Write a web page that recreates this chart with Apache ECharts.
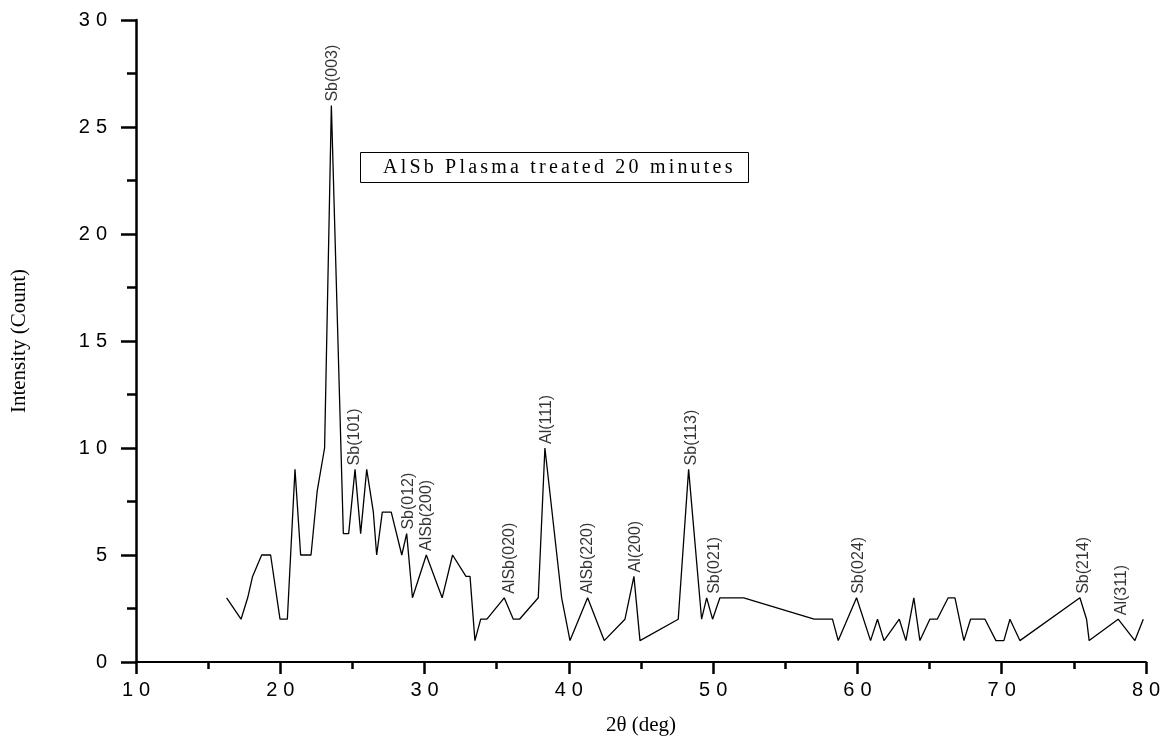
<!DOCTYPE html>
<html>
<head>
<meta charset="utf-8">
<script src="https://cdn.jsdelivr.net/npm/echarts@6/dist/echarts.min.js"></script>
<style>
  html, body { margin: 0; background: #fff; }
  #chart { width: 1172px; height: 751px; }
</style>
</head>
<body>
<div id="chart"></div>
<script>
// XRD scan
const angle = [
  16.28, 17.28, 17.74, 18.08, 18.71, 19.33, 19.98, 20.49, 21.02, 21.41,
  22.13, 22.56, 23.07, 23.54, 24.37, 24.74, 25.18, 25.57, 25.99, 26.45,
  26.68, 27.07, 27.69, 28.42, 28.76, 29.16, 30.12, 31.22, 31.94, 32.87,
  33.15, 33.49, 33.89, 34.32, 35.52, 36.15, 36.58, 37.88, 38.34, 39.50,
  40.08, 41.30, 42.45, 43.89, 44.51, 44.93, 47.58, 48.30, 49.20, 49.55,
  49.96, 50.47, 52.12, 57.00, 58.27, 58.67, 59.94, 60.91, 61.39, 61.84,
  62.90, 63.36, 63.91, 64.33, 65.02, 65.53, 66.29, 66.76, 67.38, 67.84,
  68.84, 69.60, 70.15, 70.57, 71.26, 75.42, 75.88, 76.06, 78.07, 79.23,
  79.81
];
const intensity = [
  3, 2, 3, 4, 5, 5, 2, 2, 9, 5,
  5, 8, 10, 26, 6, 6, 9, 6, 9, 7,
  5, 7, 7, 5, 6, 3, 5, 3, 5, 4,
  4, 1, 2, 2, 3, 2, 2, 3, 10, 3,
  1, 3, 1, 2, 4, 1, 2, 9, 2, 3,
  2, 3, 3, 2, 2, 1, 3, 1, 2, 1,
  2, 1, 3, 1, 2, 2, 3, 3, 1, 2,
  2, 1, 1, 2, 1, 3, 2, 1, 2, 1,
  2
];

// peak labels
const peakNames = ['Sb(003)', 'Sb(101)', 'Sb(012)', 'AlSb(200)', 'AlSb(020)', 'Al(111)',
  'AlSb(220)', 'Al(200)', 'Sb(113)', 'Sb(021)', 'Sb(024)', 'Sb(214)', 'Al(311)'];
const peakAngle = [23.65, 25.18, 28.92, 30.15, 35.92, 38.46, 41.28, 44.65, 48.51, 50.12, 60.06, 75.70, 78.31];
const peakCount = [26, 9, 6, 5, 3, 10, 3, 4, 9, 3, 3, 3, 2];

const sampleName = 'AlSb Plasma treated 20 minutes';

const chart = echarts.init(document.getElementById('chart'));

// spaced-out glyphs like the original plot
const spaced = (s, tag) => String(s).split('').map(c => '{' + tag + '|' + c + '}').join('');

const tickFont = { fontSize: 20, fontFamily: 'Liberation Sans', color: '#000' };

chart.setOption({
  animation: false,
  backgroundColor: '#fff',
  grid: { left: 136, right: 26, top: 20, bottom: 89 },
  xAxis: {
    type: 'value',
    min: 10,
    max: 80,
    interval: 10,
    name: '2θ (deg)',
    nameLocation: 'middle',
    nameGap: 53,
    nameTextStyle: { fontFamily: 'Liberation Serif', fontSize: 21, color: '#000' },
    axisLine: { lineStyle: { color: '#000', width: 2 } },
    axisTick: { length: 12, lineStyle: { color: '#000', width: 2.5 } },
    minorTick: { show: true, splitNumber: 2, length: 7, lineStyle: { color: '#000', width: 2.5 } },
    splitLine: { show: false },
    axisLabel: {
      margin: 18,
      formatter: v => spaced(v, 'd'),
      rich: { d: Object.assign({ padding: [0, 3] }, tickFont) }
    }
  },
  yAxis: {
    type: 'value',
    min: 0,
    max: 30,
    interval: 5,
    name: 'Intensity (Count)',
    nameLocation: 'middle',
    nameGap: 106,
    nameTextStyle: { fontFamily: 'Liberation Serif', fontSize: 21, color: '#000' },
    axisLine: { lineStyle: { color: '#000', width: 2.5 } },
    axisTick: { length: 15, lineStyle: { color: '#000', width: 2.5 } },
    minorTick: { show: true, splitNumber: 2, length: 9, lineStyle: { color: '#000', width: 2.5 } },
    splitLine: { show: false },
    axisLabel: {
      margin: 26,
      formatter: v => spaced(v, 'd'),
      rich: { d: Object.assign({ padding: [0, 3] }, tickFont) }
    }
  },
  series: [
    {
      name: sampleName,
      type: 'line',
      data: angle.map((a, i) => [a, intensity[i]]),
      showSymbol: false,
      symbol: 'none',
      lineStyle: { color: '#000', width: 1.3 },
      silent: true
    },
    {
      type: 'scatter',
      symbolSize: 0,
      silent: true,
      data: peakNames.map((n, i) => ({ name: n, value: [peakAngle[i], peakCount[i]] })),
      label: {
        show: true,
        formatter: '{b}',
        position: 'top',
        distance: 4,
        rotate: 90,
        align: 'left',
        verticalAlign: 'middle',
        fontFamily: 'Liberation Sans',
        fontSize: 16,
        color: '#000'
      }
    }
  ],
  graphic: [
    {
      type: 'rect',
      shape: { x: 360.5, y: 152.5, width: 388, height: 30 },
      style: { fill: '#fff', stroke: '#000', lineWidth: 1 },
      z: 10
    },
    {
      type: 'text',
      x: 383,
      y: 168,
      z: 11,
      style: {
        text: spaced(sampleName, 'c'),
        verticalAlign: 'middle',
        align: 'left',
        rich: { c: { fontFamily: 'Liberation Serif', fontSize: 20, fill: '#000', padding: [0, 3.2, 0, 0] } }
      }
    }
  ]
});
</script>
</body>
</html>
